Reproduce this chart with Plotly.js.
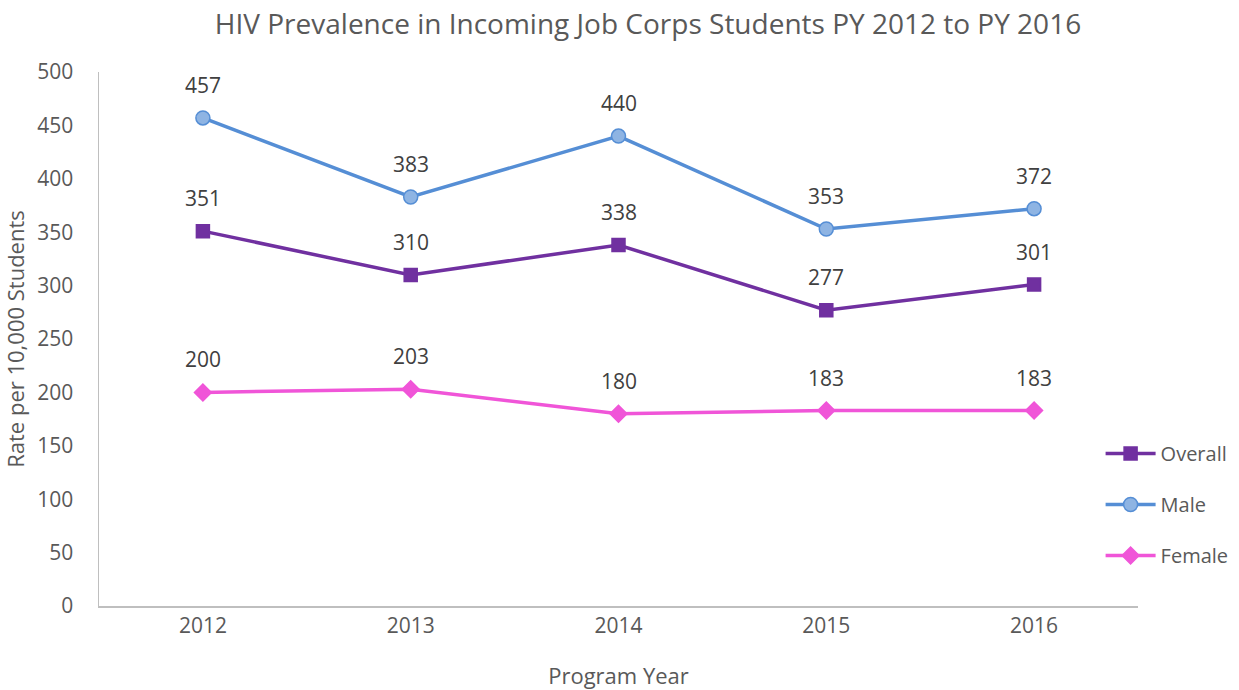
<!DOCTYPE html>
<html>
<head>
<meta charset="utf-8">
<script src="https://cdn.plot.ly/plotly-3.0.1.min.js"></script>
<style>
  html, body { margin: 0; padding: 0; background: #fff; }
  #chart { width: 1239px; height: 690px; }
</style>
</head>
<body>
<div id="chart"></div>
<script>
// Data
const years = ['2012', '2013', '2014', '2015', '2016'];
const overall = [351, 310, 338, 277, 301];
const male = [457, 383, 440, 353, 372];
const female = [200, 203, 180, 183, 183];

const font = '"Open Sans", "Liberation Sans", sans-serif';
const textColor = '#595959';

const series = [
    { name: 'Overall', y: overall, line: '#7030A0', fill: '#7030A0', symbol: 'square', size: 13 },
    { name: 'Male', y: male, line: '#558ED5', fill: '#8EB4E3', symbol: 'circle', size: 14 },
    { name: 'Female', y: female, line: '#F055D8', fill: '#F055D8', symbol: 'diamond', size: 13 }
];

const traces = series.map((s, i) => ({
    x: years,
    y: s.y,
    type: 'scatter',
    mode: 'lines+markers',
    name: s.name,
    legendgroup: 'g' + i,
    line: { color: s.line, width: 3.5 },
    marker: { symbol: s.symbol, size: s.size, color: s.fill, line: { color: s.line, width: 1.5 } }
}));

// Data labels above each point (x given as category index)
const annotations = [];
series.forEach(s => {
    s.y.forEach((v, j) => {
        annotations.push({
            xref: 'x', yref: 'y',
            x: j, y: v, text: String(v),
            showarrow: false, yshift: 33,
            font: { family: font, size: 21, color: '#404040' }
        });
    });
});

const layout = {
    width: 1239,
    height: 690,
    margin: { l: 99, r: 101, t: 72, b: 84, pad: 0, autoexpand: false },
    paper_bgcolor: '#fff',
    plot_bgcolor: '#fff',
    font: { family: font, color: textColor },
    title: {
        text: 'HIV Prevalence in Incoming Job Corps Students PY 2012 to PY 2016',
        font: { family: font, size: 28, color: textColor },
        x: 0.523, xanchor: 'center', y: 0.965, yanchor: 'middle'
    },
    xaxis: {
        type: 'category',
        range: [-0.5, 4.5],
        showline: true, linecolor: '#BFBFBF', linewidth: 1.5,
        showgrid: false, zeroline: false,
        ticks: '', ticklen: 0,
        tickfont: { family: font, size: 21, color: textColor },
        title: { text: 'Program Year', font: { family: font, size: 22, color: textColor }, standoff: 34 }
    },
    yaxis: {
        range: [0, 500],
        dtick: 50,
        showline: true, linecolor: '#BFBFBF', linewidth: 1.5,
        showgrid: false, zeroline: false,
        ticks: '',
        tickfont: { family: font, size: 21, color: textColor },
        ticklabelstandoff: 20,
        title: { text: 'Rate per 10,000 Students', font: { family: font, size: 22, color: textColor }, standoff: 10 }
    },
    legend: {
        x: 0.964, xanchor: 'left', y: 0.19, yanchor: 'middle',
        font: { family: font, size: 20, color: textColor },
        tracegroupgap: 22,
        itemwidth: 50
    },
    annotations: annotations
};

Plotly.newPlot('chart', traces, layout, { displayModeBar: false, staticPlot: true });
</script>
</body>
</html>
